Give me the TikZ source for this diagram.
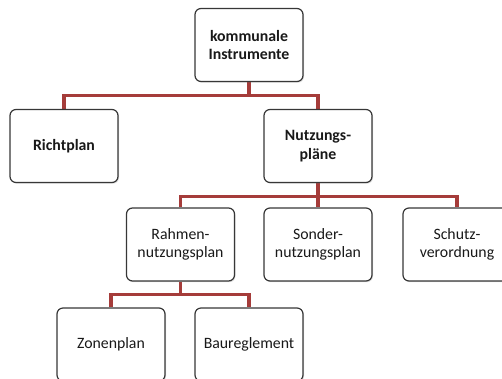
\documentclass[tikz,border=0pt]{standalone}
\usepackage{fontspec}
\setmainfont{Carlito}
\usepackage{tikz}
\usetikzlibrary{shadows, backgrounds}

\definecolor{linkred}{RGB}{165,60,58}
\definecolor{boxgray}{RGB}{55,55,55}

\begin{document}
\begin{tikzpicture}[x=1pt, y=-1pt, line width=1pt,
    box/.style={draw=boxgray, line width=1.2pt, fill=white, rounded corners=6pt,
        minimum width=108pt, minimum height=73pt, inner sep=0pt, align=center,
        font=\fontsize{15.8}{18.5}\selectfont, text=black!90,
        drop shadow={shadow xshift=1pt, shadow yshift=-1.2pt, opacity=.25}},
    topbox/.style={box, font=\fontsize{15.8}{18.5}\selectfont\bfseries},
    link/.style={draw=linkred, line width=3.2pt}]
    \useasboundingbox (0,0) rectangle (502,378);

    \node[topbox] (kommunal) at (249,45) {kommunale\\Instrumente};

    \node[topbox] (richtplan) at (64,146) {Richtplan};
    \node[topbox] (nutzung) at (318,146) {Nutzungs-\\pläne};

    \node[box] (rahmen) at (180.5,244.5) {Rahmen-\\nutzungsplan};
    \node[box] (sonder) at (318,244.5) {Sonder-\\nutzungsplan};
    \node[box] (schutz) at (457,244.5) {Schutz-\\verordnung};

    \node[box] (zonen) at (111,344.5) {Zonenplan};
    \node[box] (baureg) at (249,344.5) {Baureglement};

    \begin{scope}[on background layer]
    \draw[link] (kommunal.south) -- ++(0,13) coordinate (kb);
    \draw[link] (richtplan.north) |- (kb) -| (nutzung.north);

    \draw[link] (nutzung.south) -- ++(0,13.5) coordinate (nb);
    \draw[link] (rahmen.north) |- (nb) -| (schutz.north);
    \draw[link] (nb) -- (sonder.north);

    \draw[link] (rahmen.south) -- ++(0,12.5) coordinate (rb);
    \draw[link] (zonen.north) |- (rb) -| (baureg.north);
    \end{scope}
\end{tikzpicture}
\end{document}
